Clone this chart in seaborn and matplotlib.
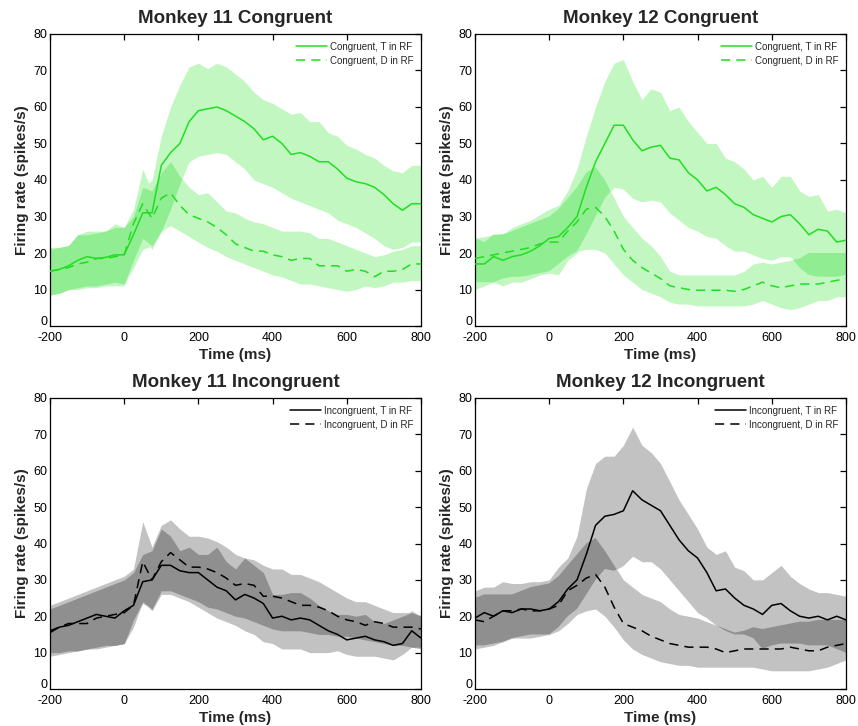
import numpy as np
import pandas as pd
import matplotlib
matplotlib.use("Agg")
import matplotlib.pyplot as plt
import matplotlib.transforms as mtransforms
import seaborn as sns

sns.set_theme(style="white")
plt.rcParams['font.family'] = ['Liberation Sans', 'DejaVu Sans']
plt.rcParams['axes.unicode_minus'] = False
plt.rcParams['lines.solid_joinstyle'] = 'round'
plt.rcParams['lines.dash_joinstyle'] = 'round'

time_ms = list(range(-200, 801, 25))

# Monkey 11 Congruent
m11c_t_mean = [15, 15.5, 16.5, 18, 19, 18.5, 18.8, 19.5, 19.5, 25, 31, 31, 44, 47.5, 50, 56, 59, 59.5, 60, 59, 57.5, 56, 54, 51, 52, 50, 47, 47.5, 46.5, 45, 45, 43, 40.5, 39.5, 39, 38, 36, 33.5, 31.7, 33.5, 33.5]
m11c_t_up = [21.5, 21.5, 22, 25, 26, 26, 26, 28, 27, 30, 38, 40, 52, 60, 66, 71, 72, 70.5, 72, 71, 69, 67, 64, 62, 61, 59.5, 58, 58.5, 56, 56, 53, 52, 49.5, 48.5, 47, 46, 44, 42.5, 42, 44, 44]
m11c_t_lo = [8.5, 9, 10, 10.5, 11, 11, 11.5, 12, 11.5, 16, 21, 22, 26, 32, 39, 45, 46.5, 47, 47.5, 47, 45, 43, 40, 39, 38, 36.5, 35, 34, 33, 32, 31, 29, 28, 27, 25.5, 24, 22, 21, 21.5, 23, 23]
m11c_d_mean = [15, 15.5, 16, 17, 17.5, 18.5, 18.5, 19, 19.5, 28, 33.5, 29.5, 35, 36.5, 33, 30.5, 29.5, 28.5, 27, 25, 22.5, 21.5, 20.5, 20.5, 19.5, 19, 18, 18.5, 18.5, 16.5, 16.5, 16.5, 15, 15.5, 15, 13.5, 15, 15, 15.5, 17, 17]
m11c_d_up = [21, 21.5, 22, 25, 25, 25.5, 26, 27, 27, 32, 43, 37, 42, 45, 41, 38, 36, 36.5, 34, 31.5, 31, 29.5, 28.5, 28, 27, 26, 26, 26, 25.5, 24, 24, 23, 22, 21, 20, 19, 19.5, 20.5, 21, 22, 22]
m11c_d_lo = [8.5, 9, 10, 10, 10.5, 10.5, 11, 11, 11, 18, 24, 21, 26, 27.5, 26, 24.5, 23, 21.5, 20.5, 19, 18, 17, 16, 15, 14, 13.5, 12.5, 11.5, 11.5, 11, 10.5, 10, 9.5, 10, 11, 10.5, 11, 12, 12, 12.5, 12.5]

# Monkey 12 Congruent
m12c_t_mean = [17, 17, 19, 18, 19, 19.5, 20.5, 22, 24, 24.5, 27, 30, 38, 45, 50, 55, 55, 51, 48, 49, 49.5, 46, 45.5, 42, 40, 37, 38, 36, 33.5, 32.5, 30.5, 29.5, 28.5, 30, 30.5, 28, 25, 26.5, 26, 23, 23.5]
m12c_t_up = [24, 23, 25, 25, 27, 28, 29, 30.5, 32, 33, 37, 43, 52, 60, 67, 72, 73, 67, 62, 65, 64, 59, 60, 56, 53, 50, 50, 46, 45, 43, 40, 41, 38, 41, 41, 37, 35.5, 36, 31.5, 32, 31]
m12c_t_lo = [10, 11, 12, 11, 12, 12, 13, 14, 14.5, 14, 18, 20, 25, 30, 35, 38, 37.5, 35, 34, 34.5, 34, 31, 29, 27, 26, 24.5, 24, 22, 20.5, 20.5, 19.5, 18.5, 18, 19, 19, 16, 14, 13.5, 13.5, 13.5, 14]
m12c_d_mean = [18.5, 19, 19.5, 20, 20.5, 21, 21.5, 22.5, 23, 23, 26, 28.5, 32, 32.5, 30, 26, 21, 18, 16, 14.5, 13, 11, 10.5, 10, 9.8, 9.8, 9.8, 9.8, 9.5, 10, 11, 12, 11, 10.5, 11, 11.5, 11.5, 11.5, 12, 12.5, 13]
m12c_d_up = [24, 24.5, 25, 25.5, 26, 27, 28, 29, 30, 32, 35, 38, 42, 43.5, 40, 35, 30, 27, 24, 22, 19, 15, 14, 14, 14, 14, 14, 14, 14, 15, 17, 17.5, 17, 17.5, 18, 18.5, 20, 20, 20, 20, 20]
m12c_d_lo = [12, 12, 12, 13, 13.5, 13.5, 14, 14.5, 15, 17, 19, 20.5, 21, 21, 20, 17, 14, 12, 10, 9, 8, 6.5, 6, 6, 5.5, 5.5, 5.5, 5.5, 5.5, 5.5, 6, 7, 6, 5, 4.5, 5, 6, 7, 7, 8, 8]

# Monkey 11 Incongruent
m11i_t_mean = [15.5, 17, 17.5, 18.5, 19.5, 20.5, 20, 19.5, 21.5, 23, 29.5, 30, 34, 34, 32.5, 32, 32, 30, 28, 27, 24.5, 26, 25, 23.5, 19.5, 20, 19, 19.5, 19, 17.5, 16, 15, 13.5, 14, 14.5, 13.5, 13, 12, 12.5, 16, 14]
m11i_t_up = [22, 23, 24, 25, 26, 27, 28, 29, 30, 32, 37, 38, 44, 42, 38, 39, 37, 37, 39, 35, 33, 36, 34, 32, 26, 26, 26.5, 26.5, 25, 23, 21.5, 20.5, 20.5, 20, 20.5, 18.5, 18, 19, 20, 21.5, 20]
m11i_t_lo = [9, 9.5, 10, 10.5, 11, 11, 11.5, 12, 12.5, 17, 24, 21.5, 26, 26, 25, 24, 22.5, 21, 19.5, 18.5, 17.5, 16, 15, 13, 12.5, 11, 11, 11, 10, 10, 10, 10.5, 9.5, 9, 9, 9, 8.5, 8, 9.5, 11.5, 11]
m11i_d_mean = [16, 17, 18, 18, 18, 19.5, 20, 20.5, 21, 23, 35, 30, 35, 37.5, 35.5, 33.5, 33.5, 33, 32, 30.5, 28.5, 29, 28.5, 25.5, 25.5, 25, 24, 23, 23, 22.5, 21.5, 20, 19, 18.5, 17.5, 18.5, 18, 17, 17, 17, 16.5]
m11i_d_up = [23, 24, 25, 26, 27, 28, 29, 30, 31, 33, 46, 39, 45, 46.5, 44, 42, 42, 41.5, 40.5, 39, 37, 36, 35.5, 34, 33, 33, 31.5, 31.5, 30.5, 29.5, 28, 26.5, 25, 24, 24, 23, 22, 21, 21, 21, 20]
m11i_d_lo = [10, 10, 10.5, 10.5, 11, 11.5, 12, 12, 12.5, 19, 23.5, 22, 27, 27, 26, 25, 24, 22.5, 22, 21, 20, 19.5, 18.5, 17.5, 16.5, 16, 16, 16, 15.5, 15, 15, 14.5, 14.5, 14, 13.5, 13, 12.5, 12, 12, 11.5, 11.5]

# Monkey 12 Incongruent
m12i_t_mean = [19.5, 21, 20, 21.5, 21, 22, 22, 21.5, 22, 24, 27.5, 30, 37, 45, 47.5, 48, 49, 54.5, 52, 50.5, 49, 45, 41, 38, 36, 32, 27, 27.5, 25, 23, 22, 20.5, 23, 23.5, 21.5, 20, 19.5, 20, 19, 20, 19]
m12i_t_up = [27, 28, 28, 29.5, 29, 29, 29.5, 29.5, 30, 33.5, 36, 42, 55, 62, 64, 64, 67, 72, 67, 65, 62, 57, 52, 48, 44, 39, 37, 38, 33.5, 32.5, 30, 30, 32, 34, 31, 29, 27.5, 26.5, 26.5, 26, 25.5]
m12i_t_lo = [12, 12, 12.5, 13, 14, 14, 14, 14.5, 15, 17, 20, 22, 26, 30, 33, 32.5, 34, 36.5, 35, 35, 33, 30, 27, 24, 21, 19.5, 17.5, 16, 15, 15, 14, 11, 12, 12.5, 12.5, 12.5, 12, 12, 12, 11, 10]
m12i_d_mean = [19, 18.5, 20, 21.5, 21.5, 22, 21.5, 21.5, 22, 23, 27, 28.5, 30.5, 31.5, 28, 22.5, 18, 17, 16, 14.5, 13.5, 12.5, 12, 11.5, 11.5, 11.5, 11, 10, 10.5, 11, 11, 11, 11, 11, 11.5, 11, 10.5, 10.5, 11.5, 12, 12.5]
m12i_d_up = [25, 26, 26, 26, 26, 27, 28, 28.5, 29, 31, 34, 37, 40, 41.5, 38, 34, 30, 28, 26, 25, 24, 22, 20.5, 20, 19.5, 18.5, 17.5, 16.5, 15.5, 16, 17, 16.5, 17, 17.5, 18, 18.5, 18.5, 19, 19, 19, 19]
m12i_d_lo = [11, 11.5, 12, 13, 14, 14.5, 15, 15, 15, 16, 18, 20.5, 21.5, 22, 20, 17, 13.5, 11, 9.5, 8.5, 7.5, 7, 6.5, 6.5, 6, 6, 6, 6, 6, 6, 6, 5.5, 5, 5, 5, 5, 5, 5.5, 6, 7, 8]

titles = ["Monkey 11 Congruent", "Monkey 12 Congruent",
          "Monkey 11 Incongruent", "Monkey 12 Incongruent"]

panels = [
    (m11c_t_mean, m11c_t_up, m11c_t_lo, m11c_d_mean, m11c_d_up, m11c_d_lo),
    (m12c_t_mean, m12c_t_up, m12c_t_lo, m12c_d_mean, m12c_d_up, m12c_d_lo),
    (m11i_t_mean, m11i_t_up, m11i_t_lo, m11i_d_mean, m11i_d_up, m11i_d_lo),
    (m12i_t_mean, m12i_t_up, m12i_t_lo, m12i_d_mean, m12i_d_up, m12i_d_lo),
]

green_line = (0.13, 0.87, 0.13)
green_light = (0.76, 0.97, 0.76)
green_dark = (0.57, 0.93, 0.57)
grey_line = (0.0, 0.0, 0.0)
grey_light = (0.76, 0.76, 0.76)
grey_dark = (0.56, 0.56, 0.56)

fig = plt.figure(figsize=(8.58, 7.26), dpi=100)
W, H = 858, 726
boxes = [(50, 34, 421, 326), (475, 34, 846, 326),
         (50, 398, 421, 689), (475, 398, 846, 689)]

t = np.array(time_ms, dtype=float)
for i, (box, title, data) in enumerate(zip(boxes, titles, panels)):
    x0, y0, x1, y1 = box
    ax = fig.add_axes([x0 / W, 1 - y1 / H, (x1 - x0) / W, (y1 - y0) / H])
    tm, tu, tl, dm, du, dl = [np.array(a, dtype=float) for a in data]
    congruent = i < 2
    lc = green_line if congruent else grey_line
    light = green_light if congruent else grey_light
    dark = green_dark if congruent else grey_dark
    cond = "Congruent" if congruent else "Incongruent"

    ax.fill_between(t, tl, tu, color=light, lw=0, zorder=1)
    ax.fill_between(t, dl, du, color=light, lw=0, zorder=1)
    lo_i = np.maximum(tl, dl)
    up_i = np.minimum(tu, du)
    ax.fill_between(t, lo_i, up_i, where=up_i > lo_i, interpolate=True,
                    color=dark, lw=0, zorder=2)

    df = pd.DataFrame({
        "Time (ms)": np.concatenate([t, t]),
        "rate": np.concatenate([tm, dm]),
        "cond": [f"{cond}, T in RF"] * len(t) + [f"{cond}, D in RF"] * len(t),
    })
    sns.lineplot(data=df, x="Time (ms)", y="rate", style="cond",
                 dashes={f"{cond}, T in RF": "", f"{cond}, D in RF": (6, 4)},
                 color=lc, lw=1.1, ax=ax, zorder=3)

    ax.set_xlim(-200, 800)
    ax.set_ylim(0, 80)
    ax.set_xticks([-200, 0, 200, 400, 600, 800])
    ax.set_yticks(range(0, 81, 10))
    ax.tick_params(direction="in", length=4, width=0.9, top=True, right=True,
                   labelsize=9, colors="black")
    ax.tick_params(axis="x", pad=4)
    ax.tick_params(axis="y", pad=2)
    for s in ax.spines.values():
        s.set_color("black")
        s.set_linewidth(0.9)
    ax.set_title(title, fontsize=13.5, fontweight="bold", pad=8)
    ax.set_xlabel("Time (ms)", fontsize=11, fontweight="bold", labelpad=3)
    ax.set_ylabel("Firing rate (spikes/s)", fontsize=11, fontweight="bold", labelpad=3)
    # lift the y "0" label slightly so it sits above the "-200" x label
    fig.canvas.draw()
    lab0 = ax.get_yticklabels()[0]
    lab0.set_transform(lab0.get_transform() +
                       mtransforms.ScaledTranslation(0, 4 / 72, fig.dpi_scale_trans))
    leg = ax.legend(loc="upper right", frameon=False, fontsize=7,
                    handlelength=3.2, handletextpad=0.3, borderaxespad=0.4,
                    labelspacing=0.4)
    for h in leg.get_lines():
        h.set_color(lc)
        h.set_linewidth(1.1)
    ax.set_facecolor("white")

fig.savefig("out.png", dpi=100, facecolor="white")
